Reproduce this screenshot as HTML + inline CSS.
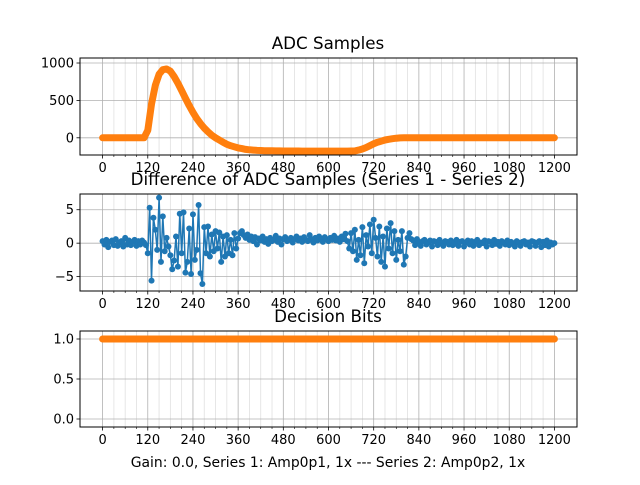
<!DOCTYPE html>
<html><head><meta charset="utf-8"><style>
html,body{margin:0;padding:0;background:#fff}
svg text{font-family:"DejaVu Sans","Liberation Sans",sans-serif;fill:#000}
</style></head><body>
<svg id="c" width="640" height="480" xmlns="http://www.w3.org/2000/svg"></svg>
<script>
const xTicks=[0,120,240,360,480,600,720,840,960,1080,1200];
const adcX=[];for(let i=0;i<=120;i++)adcX.push(i*10);
const diffX=[];for(let i=0;i<=240;i++)diffX.push(i*5);
const adcValues=[0,0,0,0,0,0,0,0,0,0,0,0,
100,450,700,850,910,920,890,820,730,630,530,430,340,260,190,130,80,35,0,-30,-60,-85,-105,-120,-135,-145,-155,-160,-165,
-168,-170,-172,-173,-174,-175,-175,-176,-176,-177,-177,-177,-178,-178,-178,-178,-178,-178,-178,-178,-178,-178,-178,-178,-178,-176,
-175,-165,-150,-130,-105,-80,-60,-45,-30,-20,-12,-6,-2,
0,0,0,0,0,0,0,0,0,0,0,0,0,0,0,0,0,0,0,0,0,0,0,0,0,0,0,0,0,0,0,0,0,0,0,0,0,0,0,0,0];
const diffValues=[0.3,-0.2,0.5,-0.6,0.2,0.4,-0.3,0.6,-0.4,0.1,0.3,-0.5,0.8,-0.2,0.4,-0.3,0.2,0.5,-0.4,0.3,-0.2,0.4,0.1,-0.3,
-1.5,5.3,-5.6,3.8,2.0,-1.0,6.8,-2.8,4.0,-1.2,0.8,-0.5,-1.8,-3.9,-2.6,1.0,-3.5,4.4,-1.5,4.6,-4.4,-2.8,2.2,-4.6,4.3,-2.5,-1.0,5.7,-4.5,-6.1,2.4,
-1.5,2.5,-2.0,1.3,-1.2,1.8,-0.8,1.6,-2.8,1.0,-2.0,1.2,-1.5,0.5,-1.8,1.5,-0.8,0.7,
1.5,1.8,1.2,0.8,1.3,0.5,1.0,0.3,0.9,-0.2,0.7,0.4,1.0,0.2,0.6,-0.1,0.8,0.3,0.5,1.1,0.2,0.7,-0.2,0.6,0.9,0.3,0.5,0.8,0.1,0.6,1.0,0.4,0.7,0.2,0.9,0.5,0.3,1.2,0.6,0.1,0.8,0.4,1.0,0.5,0.2,0.9,0.6,0.3,0.8,0.5,1.1,0.4,0.7,0.2,1.0,0.6,1.4,0.3,
-0.8,1.5,-1.2,2.0,-2.5,0.5,-1.8,2.4,-3.0,1.2,-0.5,2.8,-1.5,3.5,0.8,-2.0,2.5,-2.8,1.0,-3.5,2.2,-0.8,3.0,-1.5,1.8,-2.5,0.5,-1.2,1.8,-3.2,-2.0,0.8,1.5,0.6,
0.4,-0.3,0.6,0.2,-0.4,0.3,0.5,-0.2,0.1,0.4,-0.5,0.3,0.2,-0.3,0.5,0.0,-0.4,0.3,0.2,-0.2,
0.4,-0.3,0.1,0.5,-0.4,0.2,0.3,-0.5,0.1,0.4,-0.2,0.3,-0.4,0.2,0.5,-0.3,0.1,0.0,0.4,-0.5,
0.3,0.2,-0.3,0.5,-0.1,0.2,-0.4,0.3,0.1,-0.2,0.4,-0.3,0.2,0.0,-0.5,0.3,0.1,-0.4,0.2,0.3,
-0.2,0.1,-0.5,0.3,0.2,-0.4,0.1,0.3,-0.6,0.2,-0.3,0.4,-0.5,0.1,-0.2,0.0];
const bitValues=adcX.map(()=>1);
const panels=[
 {name:'adc',title:'ADC Samples',top:58,bot:155,ymin:-230,ymax:1067,yt:[0,500,1000],ytl:['0','500','1000'],xs:adcX,vals:adcValues,color:'#ff7f0e',thick:7,titleY:49},
 {name:'diff',title:'Difference of ADC Samples (Series 1 - Series 2)',top:194,bot:291,ymin:-7.15,ymax:7.35,yt:[-5,0,5],ytl:['−5','0','5'],xs:diffX,vals:diffValues,color:'#1f77b4',thick:1.5,dots:true,titleY:185},
 {name:'bits',title:'Decision Bits',top:331,bot:427,ymin:-0.1,ymax:1.1,yt:[0,0.5,1],ytl:['0.0','0.5','1.0'],xs:adcX,vals:bitValues,color:'#ff7f0e',thick:7,titleY:322}
];
const L=80,R=577;
const sx=v=>L+(v+60)/1320*(R-L);
const svg=document.getElementById('c');
const NS='http://www.w3.org/2000/svg';
function mk(tag,attrs,parent){const e=document.createElementNS(NS,tag);for(const k in attrs)e.setAttribute(k,attrs[k]);(parent||svg).appendChild(e);return e;}
panels.forEach(p=>{
 const sy=v=>p.bot-(v-p.ymin)/(p.ymax-p.ymin)*(p.bot-p.top);
 const g=mk('g',{});
 
 
 for(let m=30;m<1200;m+=30){if(m%120===0)continue;
  const l=mk('line',{x1:sx(m),x2:sx(m),y1:p.top,y2:p.bot,stroke:'#e0e0e0','stroke-width':0.8},g);
  
  mk('line',{x1:sx(m),x2:sx(m),y1:p.bot,y2:p.bot+2,stroke:'#000','stroke-width':0.6},g);}
 xTicks.forEach(t=>{
  const l=mk('line',{x1:sx(t),x2:sx(t),y1:p.top,y2:p.bot,stroke:'#b0b0b0','stroke-width':0.8},g);
  
  mk('line',{x1:sx(t),x2:sx(t),y1:p.bot,y2:p.bot+3.5,stroke:'#000','stroke-width':0.8},g);
  const tx=mk('text',{x:sx(t),y:p.bot+17,'text-anchor':'middle','font-size':'13px'},g);tx.textContent=t;
  
 });
 p.yt.forEach((t,i)=>{
  const l=mk('line',{x1:L,x2:R,y1:sy(t),y2:sy(t),stroke:'#b0b0b0','stroke-width':0.8},g);
  
  mk('line',{x1:L-3.5,x2:L,y1:sy(t),y2:sy(t),stroke:'#000','stroke-width':0.8},g);
  const tx=mk('text',{x:L-6,y:sy(t)+4.5,'text-anchor':'end','font-size':'13px'},g);tx.textContent=p.ytl[i];
  
 });
 const pts=p.xs.map((x,i)=>sx(x).toFixed(1)+','+sy(p.vals[i]).toFixed(1)).join(' ');
 const line=mk('polyline',{points:pts,fill:'none',stroke:p.color,'stroke-width':p.thick,'stroke-linejoin':'round','stroke-linecap':'round'},g);
 
 if(p.dots){p.xs.forEach((x,i)=>{const c=mk('circle',{cx:sx(x),cy:sy(p.vals[i]),r:3,fill:p.color},g);
  });}
 const fr=mk('rect',{x:L,y:p.top,width:R-L,height:p.bot-p.top,fill:'none',stroke:'#000','stroke-width':1},g);
 
 const ti=mk('text',{x:328,y:p.titleY,'text-anchor':'middle','font-size':'16.7px'},g);ti.textContent=p.title;
 
});
const xl=mk('text',{x:328,y:467,'text-anchor':'middle','font-size':'13.9px'});
xl.textContent='Gain: 0.0, Series 1: Amp0p1, 1x --- Series 2: Amp0p2, 1x';


</script>
</body></html>
